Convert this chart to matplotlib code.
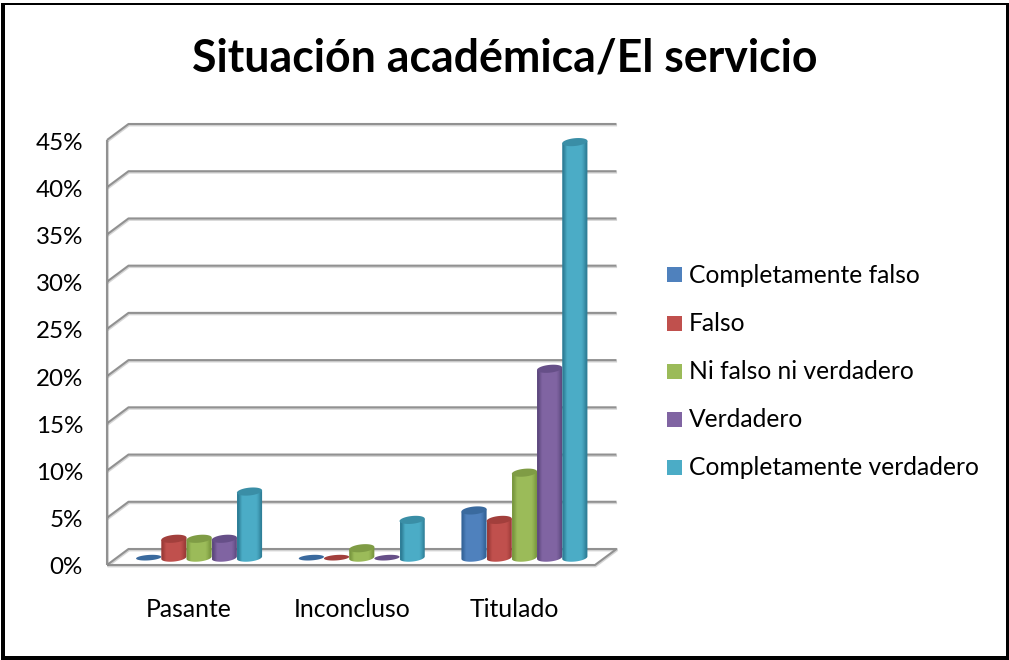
import matplotlib
matplotlib.use("Agg")

import numpy as np
import matplotlib.pyplot as plt
import matplotlib.patheffects as pe
from matplotlib.patches import Polygon, Rectangle
from matplotlib.colors import LinearSegmentedColormap

W, H = 1009, 660

categories = ["Pasante", "Inconcluso", "Titulado"]
series = ["Completamente falso", "Falso", "Ni falso ni verdadero",
          "Verdadero", "Completamente verdadero"]
comp_falso = [0, 0, 5]
falso = [2, 0, 4]
ni_falso = [2, 1, 9]
verdadero = [2, 0, 20]
comp_verdadero = [7, 4, 44]
values = [comp_falso, falso, ni_falso, verdadero, comp_verdadero]
yticks = [0, 5, 10, 15, 20, 25, 30, 35, 40, 45]

colors = ["#4f81bd", "#c0504d", "#9bbb59", "#8064a2", "#4bacc6"]
dark = ["#3a6a9e", "#a23f3c", "#7f9c45", "#664f88", "#3a8ea6"]
side = ["#35659a", "#9c3b38", "#7b9940", "#5f4a80", "#2f7f98"]

plt.rcParams["font.family"] = ["Lato", "DejaVu Sans"]


def px_axes(fig, x0, y0, x1, y1):
    # pixel box with y measured from the top
    return fig.add_axes([x0 / W, 1 - y1 / H, (x1 - x0) / W, (y1 - y0) / H])


def main():
    fig = plt.figure(figsize=(W / 100, H / 100), dpi=100, facecolor="white")

    # black frame, thicker on the left and bottom
    for x0, y0, x1, y1 in [(1, 3, 5, 660), (1, 3, 1009, 5), (1006, 3, 1009, 660), (1, 656, 1009, 660)]:
        fig.add_artist(Rectangle((x0 / W, 1 - y1 / H), (x1 - x0) / W, (y1 - y0) / H, fc="black", ec="none",
                                 transform=fig.transFigure))

    fig.text(504.5 / W, 1 - 58 / H, "Situación académica/El servicio", fontsize=32.1,
             fontweight="bold", ha="center", va="center", color="black")

    ax = px_axes(fig, 107, 140, 595, 565)
    ax.set_xlim(-0.5, 2.5)
    ax.set_ylim(0, 45)
    ax.axis("off")

    # depth of the box in data units
    px_x = 3 / 488
    px_y = 45 / 425
    dx = 21.5 * px_x
    dy = 16 * px_y

    grid = dict(color="#919191", lw=1.5, clip_on=False, solid_capstyle="butt",
                path_effects=[pe.SimpleLineShadow(offset=(0.4, -1), alpha=0.3, shadow_color="#777777"),
                              pe.Normal()])
    for t in yticks:
        if t == 0:
            ax.plot([-0.5, 2.5, 2.5 + dx, -0.5 + dx, -0.5],
                    [0, 0, dy, dy, 0], **grid)
        else:
            ax.plot([-0.5, -0.5 + dx, 2.5 + dx], [t, t + dy, t + dy], **grid)
        ax.text(-0.5 - 24 * px_x, t - 3 * px_y, "%d%%" % t, ha="right", va="center", fontsize=17.4)
    ax.plot([-0.5, -0.5], [0, 45], **grid)

    for i, c in enumerate(categories):
        ax.text(i + 0.005, -4.75, c, ha="center", va="center", fontsize=17.8)

    # cylinders
    n = len(series)
    bw = 25.2 * px_x
    a = bw / 2
    b = 3.9 * px_y
    tilt = 1.2 * px_y
    t = np.linspace(0, 2 * np.pi, 60)
    for j in range(n):
        cmap = LinearSegmentedColormap.from_list("c", [side[j], colors[j], colors[j], side[j]])
        grad = np.array([[0, .3, .45, .5, .55, .6, .75, 1.0]])
        for i in range(len(categories)):
            v = values[j][i]
            cx = i + dx * 0.5 + (j - (n - 1) / 2) * bw
            base = dy * 0.5 - 0.07
            if v > 0:
                tt = np.linspace(np.pi, 2 * np.pi, 40)
                low_x = cx + a * np.cos(tt)
                low_y = base + b * np.sin(tt) + tilt * np.cos(tt)
                up_x = low_x[::-1]
                up_y = base + v + tilt * np.cos(tt[::-1])
                body = Polygon(np.column_stack([np.r_[low_x, up_x], np.r_[low_y, up_y]]),
                               closed=True, fc="none", ec="none", zorder=3 + j)
                ax.add_patch(body)
                im = ax.imshow(grad, extent=(cx - a, cx + a, base - b - tilt, base + v + b + tilt),
                               cmap=cmap, aspect="auto", zorder=3 + j, interpolation="bilinear")
                im.set_clip_path(body)
                ax.set_xlim(-0.5, 2.5)
                ax.set_ylim(0, 45)
            scale = 1.0 if v > 0 else 0.7
            ex = cx + a * np.cos(t)
            ey = base + v + scale * (b * np.sin(t) + tilt * np.cos(t))
            ax.add_patch(Polygon(np.column_stack([ex, ey]), closed=True, fc=dark[j], ec="none",
                                 zorder=3 + j, clip_on=False))

    # legend, drawn by hand to keep the row spacing
    for j, s in enumerate(series):
        y = 275.5 + j * 48
        fig.add_artist(Rectangle((667 / W, 1 - (y + 7) / H), 15 / W, 15 / H, fc=colors[j], ec="none",
                                 transform=fig.transFigure))
        fig.text(689 / W, 1 - y / H, s, fontsize=17.7, ha="left", va="center", color="black")

    fig.savefig("out.png", dpi=100, facecolor="white")


if __name__ == "__main__": main()
